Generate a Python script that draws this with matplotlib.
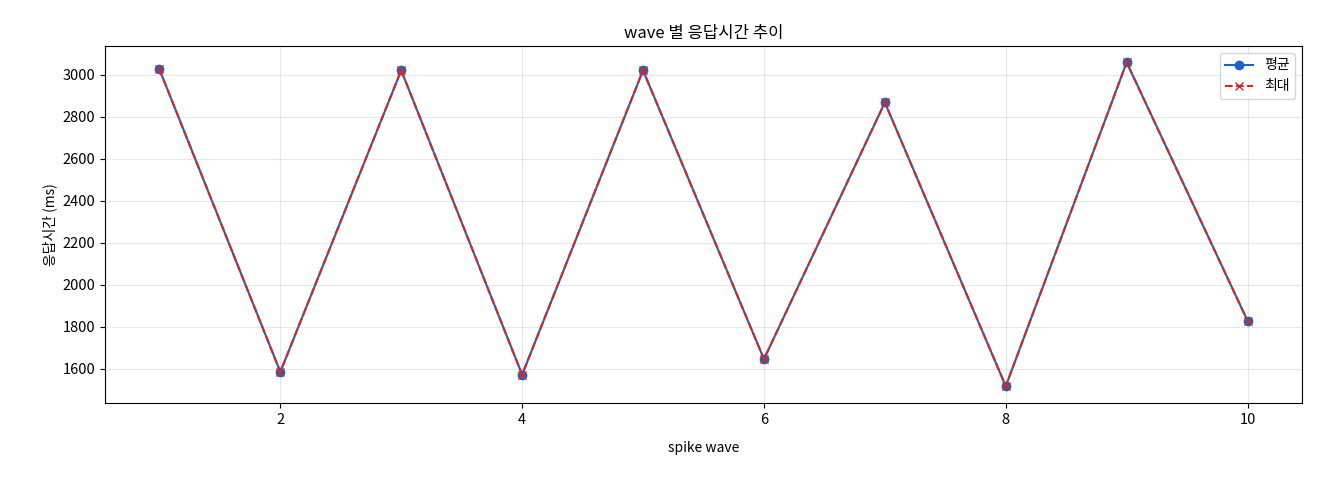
import matplotlib
matplotlib.use("Agg")
import matplotlib.pyplot as plt

plt.rcParams['font.family'] = ['Noto Sans CJK KR', 'DejaVu Sans']

waves = [1, 2, 3, 4, 5, 6, 7, 8, 9, 10]
avg_ms = [3027, 1586, 3022, 1573, 3022, 1647, 2869, 1518, 3060, 1829]
max_ms = [3027, 1586, 3022, 1573, 3022, 1647, 2869, 1518, 3060, 1829]

fig = plt.figure(figsize=(13.2, 4.8), dpi=100)
ax = fig.add_axes([105/1320, 1-403/480, (1302-105)/1320, (403-46)/480])
ax.plot(waves, avg_ms, marker='o', color='#1f63c0', label='평균', markersize=6)
ax.plot(waves, max_ms, marker='x', linestyle='--', color='#d62728', label='최대', markersize=6)
ax.set_ylim(1438, 3138)
ax.set_xticks([2, 4, 6, 8, 10])
ax.tick_params(labelsize=10.5)
ax.grid(True, alpha=0.3)
ax.set_title('wave 별 응답시간 추이', fontsize=12)
ax.set_xlabel('spike wave', labelpad=10)
ax.set_ylabel('응답시간 (ms)')
ax.legend(loc='upper right')
fig.savefig('out.png', dpi=100)
